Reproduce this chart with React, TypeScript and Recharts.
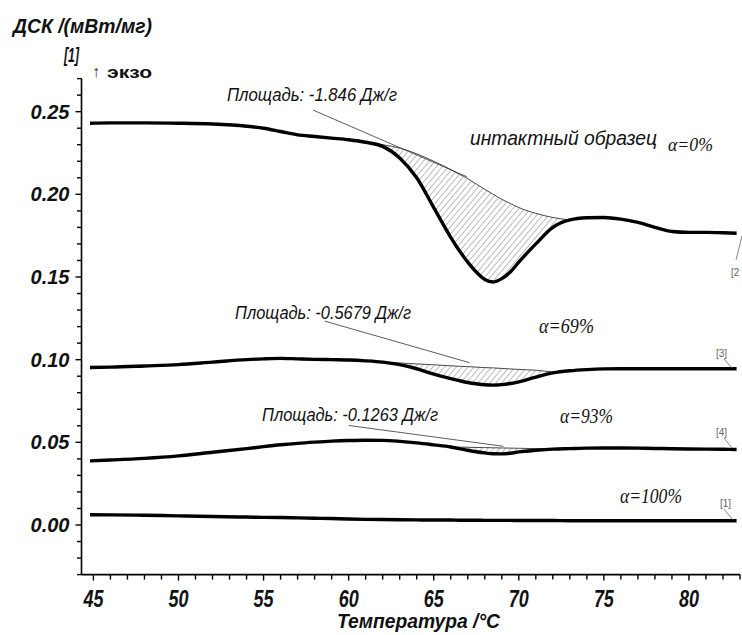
import React from "react";
import { ComposedChart, Line, Area, XAxis, YAxis, ReferenceLine } from "recharts";

// Temperature grid (°C)
const temps = [44.8, 46, 48, 50, 52, 54, 55, 56, 57, 58, 59, 60, 61, 62, 63, 64, 65, 66, 66.5, 67, 67.5, 68, 68.5, 69, 69.5, 70, 71, 72, 73, 74, 75, 76, 77, 78, 79, 80, 81, 82, 82.8];

// α=0% (intact sample)
const dsc0 = [0.2430, 0.2432, 0.2432, 0.2430, 0.2425, 0.2412, 0.2400, 0.2380, 0.2360, 0.2350, 0.2340, 0.2330, 0.2315, 0.2290, 0.2220, 0.2100, 0.1920, 0.1740, 0.1660, 0.1590, 0.1530, 0.1485, 0.1470, 0.1490, 0.1530, 0.1590, 0.1700, 0.1800, 0.1845, 0.1858, 0.1860, 0.1850, 0.1830, 0.1800, 0.1775, 0.1770, 0.1770, 0.1768, 0.1765];
const base0 = [null, null, null, null, null, null, null, null, null, null, null, null, 0.2315, 0.2300, 0.2280, 0.2245, 0.2200, 0.2150, 0.2122, 0.2095, 0.2062, 0.2030, 0.2000, 0.1970, 0.1945, 0.1920, 0.1885, 0.1860, 0.1845, null, null, null, null, null, null, null, null, null, null];

// α=69%
const dsc69 = [0.0953, 0.0955, 0.0962, 0.0970, 0.0985, 0.1000, 0.1005, 0.1008, 0.1005, 0.1002, 0.1000, 0.0998, 0.0993, 0.0985, 0.0970, 0.0945, 0.0912, 0.0885, 0.0873, 0.0862, 0.0854, 0.0848, 0.0846, 0.0849, 0.0856, 0.0866, 0.0895, 0.0920, 0.0933, 0.0940, 0.0944, 0.0945, 0.0945, 0.0945, 0.0945, 0.0945, 0.0945, 0.0945, 0.0945];
const base69 = [null, null, null, null, null, null, null, null, null, null, null, null, null, 0.0985, 0.0980, 0.0974, 0.0969, 0.0963, 0.0960, 0.0958, 0.0955, 0.0952, 0.0950, 0.0947, 0.0944, 0.0941, 0.0936, 0.0925, null, null, null, null, null, null, null, null, null, null, null];

// α=93%
const dsc93 = [0.0388, 0.0393, 0.0403, 0.0418, 0.0440, 0.0462, 0.0474, 0.0485, 0.0494, 0.0501, 0.0507, 0.0511, 0.0513, 0.0512, 0.0506, 0.0497, 0.0485, 0.0472, 0.0462, 0.0452, 0.0443, 0.0436, 0.0431, 0.0430, 0.0434, 0.0442, 0.0452, 0.0459, 0.0462, 0.0465, 0.0466, 0.0466, 0.0465, 0.0463, 0.0461, 0.0460, 0.0459, 0.0458, 0.0457];
const base93 = [null, null, null, null, null, null, null, null, null, null, null, null, null, null, null, null, null, 0.0472, 0.0471, 0.0470, 0.0469, 0.0468, 0.0467, 0.0466, 0.0465, 0.0464, 0.0462, 0.0460, null, null, null, null, null, null, null, null, null, null, null];

// α=100%
const dsc100 = [0.0062, 0.0061, 0.0059, 0.0055, 0.0051, 0.0048, 0.0046, 0.0045, 0.0043, 0.0041, 0.0039, 0.0036, 0.0034, 0.0033, 0.0032, 0.0031, 0.0030, 0.0030, 0.0029, 0.0029, 0.0029, 0.0028, 0.0028, 0.0028, 0.0028, 0.0027, 0.0027, 0.0027, 0.0026, 0.0026, 0.0026, 0.0026, 0.0026, 0.0026, 0.0026, 0.0026, 0.0026, 0.0026, 0.0026];

const xTicks = [45, 46, 47, 48, 49, 50, 51, 52, 53, 54, 55, 56, 57, 58, 59, 60, 61, 62, 63, 64, 65, 66, 67, 68, 69, 70, 71, 72, 73, 74, 75, 76, 77, 78, 79, 80, 81, 82, 83];
const yTicks = [-0.03, -0.02, -0.01, 0, 0.01, 0.02, 0.03, 0.04, 0.05, 0.06, 0.07, 0.08, 0.09, 0.1, 0.11, 0.12, 0.13, 0.14, 0.15, 0.16, 0.17, 0.18, 0.19, 0.2, 0.21, 0.22, 0.23, 0.24, 0.25, 0.26, 0.27];

const data = temps.map((t, i) => ({
  t,
  c0: dsc0[i],
  c69: dsc69[i],
  c93: dsc93[i],
  c100: dsc100[i],
  h0: base0[i] == null ? null : [dsc0[i], base0[i]],
  h69: base69[i] == null ? null : [dsc69[i], base69[i]],
  h93: base93[i] == null ? null : [dsc93[i], base93[i]],
}));

const SANS = "'Liberation Sans', Arial, sans-serif";
const SERIF = "'Liberation Serif', 'Times New Roman', serif";

const XTick = (props: any) => {
  const { x, y, payload } = props;
  const v = payload.value;
  const major = Math.round(v) % 5 === 0;
  return (
    <g>
      <line x1={x} y1={y} x2={x} y2={y + (major ? 6 : 5)} stroke="#000" strokeWidth={1.4} />
      {major && (
        <text x={x} y={y + 32} textAnchor="middle" fontFamily={SANS} fontWeight="bold" fontStyle="italic" fontSize={23} fill="#111" textLength={20} lengthAdjust="spacingAndGlyphs">
          {v}
        </text>
      )}
    </g>
  );
};

const YTick = (props: any) => {
  const { x, y, payload } = props;
  const v = payload.value;
  const major = Math.round(v * 100) % 5 === 0 && v >= 0;
  return (
    <g>
      <line x1={x} y1={y} x2={x - (major ? 6 : 4.5)} y2={y} stroke="#000" strokeWidth={1.4} />
      {major && (
        <text x={x - 12} y={y + 7} textAnchor="end" fontFamily={SANS} fontWeight="bold" fontStyle="italic" fontSize={20} fill="#111">
          {v.toFixed(2)}
        </text>
      )}
    </g>
  );
};

export default function App() {
  return (
    <div style={{ position: "absolute", left: 0, top: 0, width: 742, height: 635, background: "#fff" }}>
      <ComposedChart width={742} height={635} data={data} margin={{ top: 78.6, right: 2, bottom: 0, left: 21.5 }}>
        <defs>
          <pattern id="hatch" width="4.5" height="4.5" patternUnits="userSpaceOnUse" patternTransform="rotate(40)">
            <line x1="0" y1="0" x2="0" y2="4.5" stroke="#222" strokeWidth="1" />
          </pattern>
        </defs>
        <XAxis
          dataKey="t"
          type="number"
          domain={[44.3, 83]}
          allowDataOverflow
          ticks={xTicks}
          interval={0}
          height={60.4}
          tickSize={0}
          tickMargin={0}
          tickLine={false}
          tick={<XTick />}
          axisLine={{ stroke: "#000", strokeWidth: 1.6 }}
        />
        <YAxis
          type="number"
          domain={[-0.03, 0.27]}
          allowDataOverflow
          ticks={yTicks}
          interval={0}
          width={60}
          tickSize={0}
          tickMargin={0}
          tickLine={false}
          tick={<YTick />}
          axisLine={{ stroke: "#000", strokeWidth: 1.6 }}
        />
        <Area type="monotone" dataKey="h0" fill="url(#hatch)" stroke="#333" strokeWidth={0.9} isAnimationActive={false} connectNulls={false} />
        <Area type="monotone" dataKey="h69" fill="url(#hatch)" stroke="#333" strokeWidth={0.9} isAnimationActive={false} connectNulls={false} />
        <Area type="monotone" dataKey="h93" fill="url(#hatch)" stroke="#333" strokeWidth={0.9} isAnimationActive={false} connectNulls={false} />
        <ReferenceLine segment={[{ x: 57.9, y: 0.251 }, { x: 66.94, y: 0.2107 }]} stroke="#333" strokeWidth={0.8} ifOverflow="visible" />
        <ReferenceLine segment={[{ x: 58.6, y: 0.1233 }, { x: 67.1, y: 0.0982 }]} stroke="#333" strokeWidth={0.8} ifOverflow="visible" />
        <ReferenceLine segment={[{ x: 60.0, y: 0.0602 }, { x: 69.1, y: 0.0476 }]} stroke="#333" strokeWidth={0.8} ifOverflow="visible" />
        <Line type="monotone" dataKey="c0" stroke="#000" strokeWidth={3.4} dot={false} isAnimationActive={false} />
        <Line type="monotone" dataKey="c69" stroke="#000" strokeWidth={3.4} dot={false} isAnimationActive={false} />
        <Line type="monotone" dataKey="c93" stroke="#000" strokeWidth={3.4} dot={false} isAnimationActive={false} />
        <Line type="monotone" dataKey="c100" stroke="#000" strokeWidth={3.4} dot={false} isAnimationActive={false} />
      </ComposedChart>
      <svg width={742} height={635} style={{ position: "absolute", left: 0, top: 0, pointerEvents: "none" }}>
        <text x={13} y={33} fontFamily={SANS} fontWeight="bold" fontStyle="italic" fontSize={20} fill="#111" textLength={139} lengthAdjust="spacingAndGlyphs">ДСК /(мВт/мг)</text>
        <text x={64} y={62} fontFamily={SANS} fontWeight="bold" fontStyle="italic" fontSize={21} fill="#111" textLength={15} lengthAdjust="spacingAndGlyphs">[1]</text>
        <text x={92} y={77} fontFamily={SANS} fontSize={16} fill="#333">↑</text>
        <text x={107} y={78} fontFamily={SANS} fontWeight="bold" fontSize={17} fill="#111" textLength={45} lengthAdjust="spacingAndGlyphs">экзо</text>

        <text x={227} y={101} fontFamily={SANS} fontStyle="italic" fontSize={18} fill="#111" textLength={170} lengthAdjust="spacingAndGlyphs">Площадь: -1.846 Дж/г</text>
        <text x={470} y={145} fontFamily={SANS} fontStyle="italic" fontSize={21} fill="#111" textLength={187} lengthAdjust="spacingAndGlyphs">интактный образец</text>
        <text x={668} y={151} fontFamily={SERIF} fontStyle="italic" fontSize={18} fill="#111" textLength={45} lengthAdjust="spacingAndGlyphs">α=0%</text>

        <text x={235} y={319} fontFamily={SANS} fontStyle="italic" fontSize={18} fill="#111" textLength={176} lengthAdjust="spacingAndGlyphs">Площадь: -0.5679 Дж/г</text>
        <text x={539} y={333} fontFamily={SERIF} fontStyle="italic" fontSize={20} fill="#111" textLength={55} lengthAdjust="spacingAndGlyphs">α=69%</text>

        <text x={262} y={421} fontFamily={SANS} fontStyle="italic" fontSize={18} fill="#111" textLength={176} lengthAdjust="spacingAndGlyphs">Площадь: -0.1263 Дж/г</text>
        <text x={560} y={423} fontFamily={SERIF} fontStyle="italic" fontSize={20} fill="#111" textLength={53} lengthAdjust="spacingAndGlyphs">α=93%</text>

        <text x={620} y={503} fontFamily={SERIF} fontStyle="italic" fontSize={20} fill="#111" textLength={62} lengthAdjust="spacingAndGlyphs">α=100%</text>

        <text x={731} y={276} fontFamily={SANS} fontSize={10} fill="#666">[2</text>
        <line x1={736} y1={260} x2={742} y2={236} stroke="#666" strokeWidth={0.8} />
        <text x={716} y={357} fontFamily={SANS} fontSize={10} fill="#666">[3]</text>
        <line x1={724} y1={359} x2={732} y2={368} stroke="#666" strokeWidth={0.8} />
        <text x={716} y={436} fontFamily={SANS} fontSize={10} fill="#666">[4]</text>
        <line x1={724} y1={438} x2={732} y2={448} stroke="#666" strokeWidth={0.8} />
        <text x={720} y={507} fontFamily={SANS} fontSize={10} fill="#666">[1]</text>
        <line x1={724} y1={509} x2={733} y2={520} stroke="#666" strokeWidth={0.8} />

        <text x={337} y={628} fontFamily={SANS} fontWeight="bold" fontStyle="italic" fontSize={20} fill="#111" textLength={163} lengthAdjust="spacingAndGlyphs">Температура /°C</text>
      </svg>
    </div>
  );
}
